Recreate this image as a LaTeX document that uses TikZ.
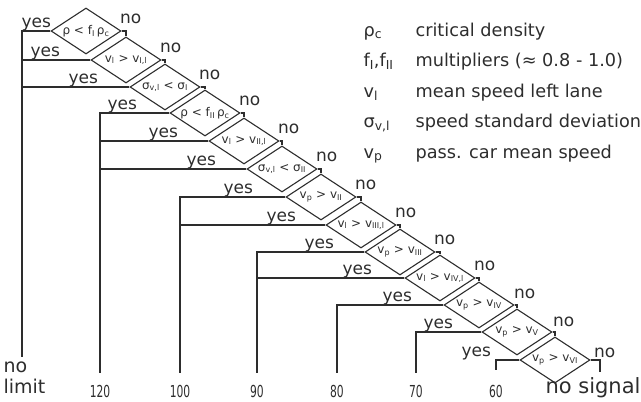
\documentclass[tikz,border=0pt]{standalone}
\usepackage{fontspec}
\setmainfont{DejaVu Sans}
\usetikzlibrary{shapes.geometric}
\definecolor{ink}{RGB}{45,45,45}
\newcommand{\sbs}[1]{\textsubscript{#1}}
\begin{document}
\begin{tikzpicture}[x=1pt,y=-1pt, line width=1.1pt, ink,
  dmd/.style={draw, diamond, aspect=1.52, minimum width=70pt, minimum height=46pt, inner sep=0pt,
    font=\fontsize{12}{12}\selectfont},
  yeslab/.style={font=\fontsize{17}{18}\selectfont, anchor=base east, inner sep=0pt},
  nolab/.style={font=\fontsize{17}{18}\selectfont, anchor=base west, inner sep=0pt},
  endlab/.style={font=\fontsize{19}{20}\selectfont, anchor=base west, inner sep=0pt},
  numlab/.style={font=\fontsize{16.5}{17}\selectfont, anchor=base, inner sep=0pt, xscale=0.65},
  leg/.style={font=\fontsize{17.7}{18}\selectfont, anchor=base west, inner sep=0pt}]
\useasboundingbox (0,0) rectangle (641,402);

% decision diamonds
\node[dmd] (d1) at (86,31) {ρ < f\sbs{I}\,ρ\sbs{c}};
\node[dmd] (d2) at (126,60) {v\sbs{l} > v\sbs{I,l}};
\node[dmd] (d3) at (165,87) {σ\sbs{v,l} < σ\sbs{I}};
\node[dmd] (d4) at (205,113) {ρ < f\sbs{II}\,ρ\sbs{c}};
\node[dmd] (d5) at (244,141) {v\sbs{l} > v\sbs{II,l}};
\node[dmd] (d6) at (282,169) {σ\sbs{v,l} < σ\sbs{II}};
\node[dmd] (d7) at (321,197) {v\sbs{p} > v\sbs{II}};
\node[dmd] (d8) at (361,225) {v\sbs{l} > v\sbs{III,l}};
\node[dmd] (d9) at (400,252) {v\sbs{p} > v\sbs{III}};
\node[dmd] (d10) at (440,278) {v\sbs{l} > v\sbs{IV,l}};
\node[dmd] (d11) at (479,305) {v\sbs{p} > v\sbs{IV}};
\node[dmd] (d12) at (517,332) {v\sbs{p} > v\sbs{V}};
\node[dmd] (d13) at (555,360) {v\sbs{p} > v\sbs{VI}};

% "no" connectors
\draw (d1.east) -| (d2.north);
\draw (d2.east) -| (d3.north);
\draw (d3.east) -| (d4.north);
\draw (d4.east) -| (d5.north);
\draw (d5.east) -| (d6.north);
\draw (d6.east) -| (d7.north);
\draw (d7.east) -| (d8.north);
\draw (d8.east) -| (d9.north);
\draw (d9.east) -| (d10.north);
\draw (d10.east) -| (d11.north);
\draw (d11.east) -| (d12.north);
\draw (d12.east) -| (d13.north);

% trunk ends
\coordinate (t0) at (22,357);
\coordinate (t1) at (100,373);
\coordinate (t2) at (180,373);
\coordinate (t3) at (257,373);
\coordinate (t4) at (337,373);
\coordinate (t5) at (416,373);
\coordinate (t6) at (496,370);
\coordinate (t7) at (600,372);

% "yes" connectors
\draw (d1.west) -| (t0);
\draw (d2.west) -- (d2.west -| t0);
\draw (d3.west) -- (d3.west -| t0);
\draw (d4.west) -| (t1);
\draw (d5.west) -- (d5.west -| t1);
\draw (d6.west) -- (d6.west -| t1);
\draw (d7.west) -| (t2);
\draw (d8.west) -- (d8.west -| t2);
\draw (d9.west) -| (t3);
\draw (d10.west) -- (d10.west -| t3);
\draw (d11.west) -| (t4);
\draw (d12.west) -| (t5);
\draw (d13.west) -| (t6);
\draw (d13.east) -| (t7);

% yes labels
\node[yeslab] (y1) at ([shift={(1,-4)}]d1.west) {yes};
\node[yeslab] (y2) at ([shift={(-30,-4)}]d2.west) {yes};
\node[yeslab] (y3) at ([shift={(-31,-4)}]d3.west) {yes};
\node[yeslab] (y4) at ([shift={(-32,-4)}]d4.west) {yes};
\node[yeslab] (y5) at ([shift={(-30,-4)}]d5.west) {yes};
\node[yeslab] (y6) at ([shift={(-30,-4)}]d6.west) {yes};
\node[yeslab] (y7) at ([shift={(-32,-4)}]d7.west) {yes};
\node[yeslab] (y8) at ([shift={(-29,-4)}]d8.west) {yes};
\node[yeslab] (y9) at ([shift={(-30,-4)}]d9.west) {yes};
\node[yeslab] (y10) at ([shift={(-32,-4)}]d10.west) {yes};
\node[yeslab] (y11) at ([shift={(-31,-4)}]d11.west) {yes};
\node[yeslab] (y12) at ([shift={(-28,-4)}]d12.west) {yes};
\node[yeslab] (y13) at ([shift={(-28,-4)}]d13.west) {yes};

% no labels
\node[nolab] (n1) at ([shift={(-2,-8)}]d1.east) {no};
\node[nolab] (n2) at ([shift={(-2,-8)}]d2.east) {no};
\node[nolab] (n3) at ([shift={(-2,-8)}]d3.east) {no};
\node[nolab] (n4) at ([shift={(-2,-8)}]d4.east) {no};
\node[nolab] (n5) at ([shift={(-2,-8)}]d5.east) {no};
\node[nolab] (n6) at ([shift={(-2,-8)}]d6.east) {no};
\node[nolab] (n7) at ([shift={(-2,-8)}]d7.east) {no};
\node[nolab] (n8) at ([shift={(-2,-8)}]d8.east) {no};
\node[nolab] (n9) at ([shift={(-2,-8)}]d9.east) {no};
\node[nolab] (n10) at ([shift={(-2,-8)}]d10.east) {no};
\node[nolab] (n11) at ([shift={(-1,-7)}]d11.east) {no};
\node[nolab] (n12) at ([shift={(0,-6)}]d12.east) {no};
\node[nolab] (n13) at ([shift={(3,-3)}]d13.east) {no};

% bottom labels
\node[endlab] (e0a) at (3,372) {no};
\node[endlab] (e0b) at (3,393) {limit};
\node[numlab] (e1) at (100,397) {120};
\node[numlab] (e2) at (180,397) {100};
\node[numlab] (e3) at (257,397) {90};
\node[numlab] (e4) at (337,397) {80};
\node[numlab] (e5) at (416,397) {70};
\node[numlab] (e6) at (496,397) {60};
\node[endlab, anchor=base, font=\fontsize{21}{22}\selectfont] (e7) at (593,393) {no signal};

% legend
\node[leg] (s1) at (363,36) {ρ\sbs{c}};
\node[leg] (s2) at (363,66.5) {f\sbs{I},f\sbs{II}};
\node[leg] (s3) at (363,97) {v\sbs{l}};
\node[leg] (s4) at (363,127.5) {σ\sbs{v,l}};
\node[leg] (s5) at (363,158) {v\sbs{p}};
\node[leg] (g1) at (415,36) {critical density};
\node[leg] (g2) at (415,66.5) {multipliers (≈ 0.8 - 1.0)};
\node[leg] (g3) at (415,97) {mean speed left lane};
\node[leg] (g4) at (415,127.5) {speed standard deviation};
\node[leg] (g5) at (415,158) {pass. car mean speed};
\end{tikzpicture}
\end{document}
